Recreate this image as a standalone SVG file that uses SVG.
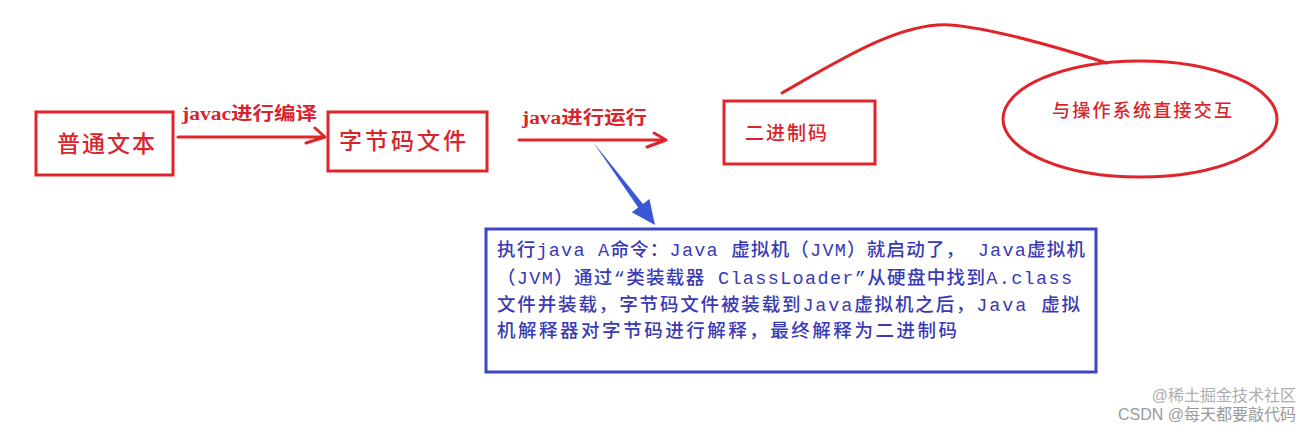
<svg xmlns="http://www.w3.org/2000/svg" width="1312" height="430" viewBox="0 0 1312 430">
<style>
.rbox{fill:none;stroke:#e0242c;stroke-width:3}
.rline{fill:none;stroke:#e0242c;stroke-width:3;stroke-linecap:round;stroke-linejoin:round}
.rt{font-family:"Liberation Serif","Noto Sans CJK SC",serif;fill:#d8242c;font-weight:500}
.lbl{font-weight:bold}
.bt{font-family:"Liberation Mono","Noto Sans CJK SC",monospace;fill:#3a3ab4;font-size:18.5px;font-weight:500}
.wm{font-family:"Liberation Sans","Noto Sans CJK SC",sans-serif;fill:#9a9a9a;font-size:16px;text-anchor:end}
</style>
<rect width="1312" height="430" fill="#ffffff"/>
<g id="connectors">
  <path class="rline" d="M178,137 L325,137 M306,143 L325,137 L315,128"/>
  <path class="rline" d="M519,140 L666,140 M647,147 L666,140 L654,133"/>
  <path class="rline" d="M782,93 C840,60 900,22 950,25 C990,28 1060,48 1107,63"/>
  <polygon points="593,142 643,204 649.4,199 655,225 631.8,212.2 638.2,207.4" fill="#3a58d6"/>
  <text class="rt lbl" x="182" y="120" font-size="18" textLength="135" lengthAdjust="spacingAndGlyphs">javac进行编译</text>
  <text class="rt lbl" x="522" y="124" font-size="18" textLength="125" lengthAdjust="spacingAndGlyphs">java进行运行</text>
</g>
<g id="node-text">
  <rect class="rbox" x="36" y="112" width="137" height="63"/>
  <text class="rt" x="57" y="152" font-size="23" textLength="98" lengthAdjust="spacing">普通文本</text>
</g>
<g id="node-bytecode">
  <rect class="rbox" x="328" y="112" width="159" height="59"/>
  <text class="rt" x="339" y="149" font-size="23" textLength="127" lengthAdjust="spacing">字节码文件</text>
</g>
<g id="node-binary">
  <rect class="rbox" x="724" y="101" width="151" height="63"/>
  <text class="rt" x="745" y="140" font-size="19" textLength="82" lengthAdjust="spacing">二进制码</text>
</g>
<g id="node-os">
  <ellipse class="rbox" cx="1140" cy="119" rx="137" ry="58"/>
  <text class="rt" x="1052" y="117" font-size="18" textLength="180" lengthAdjust="spacing">与操作系统直接交互</text>
</g>
<g id="node-note">
  <rect x="486" y="229" width="610" height="143" fill="none" stroke="#3c46c2" stroke-width="3"/>
  <text class="bt" x="497" y="256" textLength="588" lengthAdjust="spacing">执行java A命令：Java 虚拟机（JVM）就启动了， Java虚拟机</text>
  <text class="bt" x="497" y="284" textLength="575" lengthAdjust="spacing">（JVM）通过“类装载器 ClassLoader”从硬盘中找到A.class</text>
  <text class="bt" x="497" y="311" textLength="583" lengthAdjust="spacing">文件并装载，字节码文件被装载到Java虚拟机之后，Java 虚拟</text>
  <text class="bt" x="497" y="337" textLength="460" lengthAdjust="spacing">机解释器对字节码进行解释，最终解释为二进制码</text>
</g>
<g id="watermark">
  <text class="wm" x="1296" y="401" opacity="0.8">@稀土掘金技术社区</text>
  <text class="wm" x="1296" y="420">CSDN @每天都要敲代码</text>
</g>
</svg>
